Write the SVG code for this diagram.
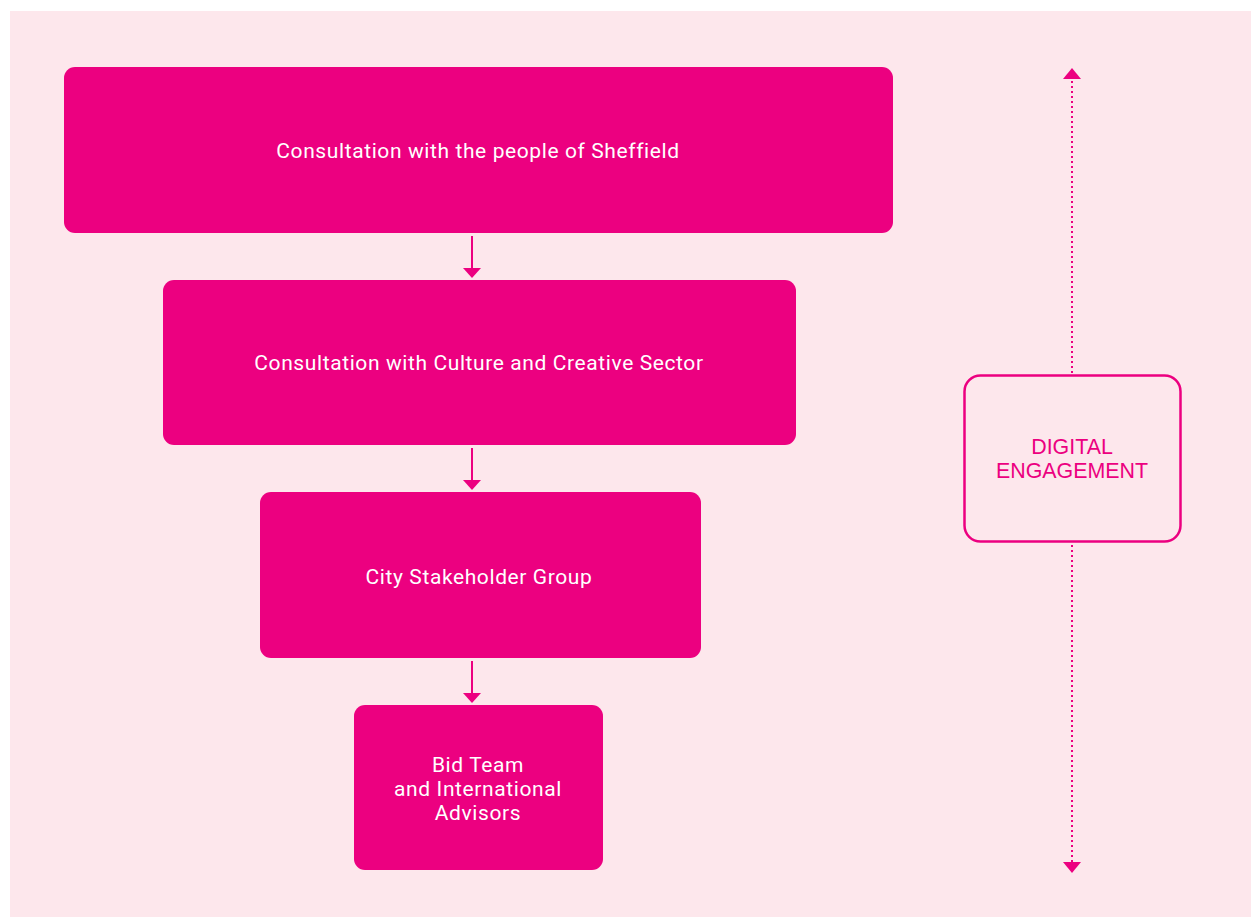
<svg xmlns="http://www.w3.org/2000/svg" width="1257" height="917" viewBox="0 0 1257 917">
<style>
.box{fill:#EC0080}
.lbl{font-family:Roboto,"Liberation Sans",sans-serif;font-size:21px;letter-spacing:0.6px;fill:#ffffff;text-anchor:middle;dominant-baseline:central}
.dlbl{font-family:"Liberation Sans",Arial,sans-serif;font-size:21.4px;fill:#EC0080;text-anchor:middle;dominant-baseline:central}
.conn{stroke:#EC0080;stroke-width:2;fill:none}
.dot{stroke:#EC0080;stroke-width:2;fill:none;stroke-dasharray:2 3}
.head{fill:#EC0080}
</style>
<rect x="0" y="0" width="1257" height="917" fill="#ffffff"/>
<rect x="10" y="11" width="1241" height="906" fill="#FDE7EC"/>
<g id="node-sheffield">
<rect class="box" x="64" y="67" width="829" height="166" rx="11"/>
<text class="lbl" x="478" y="151">Consultation with the people of Sheffield</text>
</g>
<g id="node-culture">
<rect class="box" x="163" y="280" width="633" height="165" rx="11"/>
<text class="lbl" x="479" y="363">Consultation with Culture and Creative Sector</text>
</g>
<g id="node-stakeholder">
<rect class="box" x="260" y="492" width="441" height="166" rx="11"/>
<text class="lbl" x="479" y="577">City Stakeholder Group</text>
</g>
<g id="node-bidteam">
<rect class="box" x="354" y="705" width="249" height="165" rx="11"/>
<text class="lbl" x="478" y="765">Bid Team</text>
<text class="lbl" x="478" y="789">and International</text>
<text class="lbl" x="478" y="813">Advisors</text>
</g>
<g id="node-digital">
<rect x="964.5" y="375.5" width="216" height="166" rx="16" fill="none" stroke="#EC0080" stroke-width="2.5"/>
<text class="dlbl" x="1072" y="447">DIGITAL</text>
<text class="dlbl" x="1072" y="471">ENGAGEMENT</text>
</g>
<g id="connectors">
<line class="conn" x1="472" y1="236" x2="472" y2="269"/>
<polygon class="head" points="463,268 481,268 472,278"/>
<line class="conn" x1="472" y1="448" x2="472" y2="481"/>
<polygon class="head" points="463,480 481,480 472,490"/>
<line class="conn" x1="472" y1="661" x2="472" y2="694"/>
<polygon class="head" points="463,693 481,693 472,703"/>
<line class="dot" x1="1072" y1="81" x2="1072" y2="373"/>
<polygon class="head" points="1063,79 1081,79 1072,68"/>
<line class="dot" x1="1072" y1="545" x2="1072" y2="862"/>
<polygon class="head" points="1063,862 1081,862 1072,873"/>
</g>
</svg>
